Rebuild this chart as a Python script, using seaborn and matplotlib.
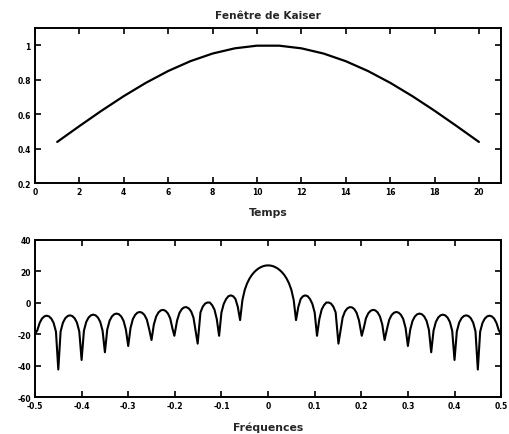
import matplotlib
matplotlib.use("Agg")
import matplotlib.pyplot as plt
import seaborn as sns
import pandas as pd

# ---- Data: Kaiser window (top) ----
temps = [1, 2, 3, 4, 5, 6, 7, 8, 9, 10, 11, 12, 13, 14, 15, 16, 17, 18, 19, 20]
fenetre = [0.4387, 0.5306, 0.6202, 0.7049, 0.7825, 0.8509, 0.9080, 0.9524, 0.9827, 0.9981,
           0.9981, 0.9827, 0.9524, 0.9080, 0.8509, 0.7825, 0.7049, 0.6202, 0.5306, 0.4387]

# ---- Data: spectrum in dB (bottom) ----
freqs = [-0.500, -0.495, -0.490, -0.485, -0.480, -0.475, -0.470, -0.465, -0.460, -0.455,
         -0.450, -0.445, -0.440, -0.435, -0.430, -0.425, -0.420, -0.415, -0.410, -0.405,
         -0.400, -0.395, -0.390, -0.385, -0.380, -0.375, -0.370, -0.365, -0.360, -0.355,
         -0.350, -0.345, -0.340, -0.335, -0.330, -0.325, -0.320, -0.315, -0.310, -0.305,
         -0.300, -0.295, -0.290, -0.285, -0.280, -0.275, -0.270, -0.265, -0.260, -0.255,
         -0.250, -0.245, -0.240, -0.235, -0.230, -0.225, -0.220, -0.215, -0.210, -0.205,
         -0.201, -0.195, -0.190, -0.185, -0.180, -0.175, -0.170, -0.165, -0.160, -0.155,
         -0.151, -0.145, -0.140, -0.135, -0.130, -0.125, -0.120, -0.115, -0.110, -0.105,
         -0.100, -0.095, -0.090, -0.085, -0.080, -0.075, -0.070, -0.065, -0.060, -0.055,
         -0.050, -0.045, -0.040, -0.035, -0.030, -0.025, -0.020, -0.015, -0.010, -0.005,
         0.000,
         0.005, 0.010, 0.015, 0.020, 0.025, 0.030, 0.035, 0.040, 0.045, 0.050,
         0.055, 0.060, 0.065, 0.070, 0.075, 0.080, 0.085, 0.090, 0.095, 0.100,
         0.105, 0.110, 0.115, 0.120, 0.125, 0.130, 0.135, 0.140, 0.145, 0.151,
         0.155, 0.160, 0.165, 0.170, 0.175, 0.180, 0.185, 0.190, 0.195, 0.201,
         0.205, 0.210, 0.215, 0.220, 0.225, 0.230, 0.235, 0.240, 0.245, 0.250,
         0.255, 0.260, 0.265, 0.270, 0.275, 0.280, 0.285, 0.290, 0.295, 0.300,
         0.305, 0.310, 0.315, 0.320, 0.325, 0.330, 0.335, 0.340, 0.345, 0.350,
         0.355, 0.360, 0.365, 0.370, 0.375, 0.380, 0.385, 0.390, 0.395, 0.400,
         0.405, 0.410, 0.415, 0.420, 0.425, 0.430, 0.435, 0.440, 0.445, 0.450,
         0.455, 0.460, 0.465, 0.470, 0.475, 0.480, 0.485, 0.490, 0.495, 0.500]
spectre_db = [-20.0, -17.5, -12.82, -10.04, -8.64, -8.2, -8.64, -10.04, -12.82, -18.4,
              -42.5, -18.19, -12.61, -9.83, -8.43, -7.99, -8.43, -9.83, -12.61, -18.19,
              -36.4, -17.74, -12.16, -9.38, -7.98, -7.54, -7.98, -9.38, -12.16, -17.74,
              -31.5, -17.05, -11.47, -8.69, -7.29, -6.85, -7.29, -8.69, -11.47, -17.05,
              -27.5, -15.95, -10.35, -7.65, -6.25, -5.85, -6.35, -7.85, -10.75, -16.85,
              -23.7, -13.8, -8.7, -6.1, -4.8, -4.5, -5.1, -6.7, -9.85, -16.5,
              -21.0, -11.1, -6.4, -4.0, -2.9, -2.76, -3.6, -5.5, -9.4, -18.5,
              -26.0, -6.1, -2.4, -0.5, 0.19, 0.17, -1.5, -4.3, -10.4, -21.0,
              -6.18, -0.64, 2.39, 4.2, 4.73, 4.2, 2.48, -2.5, -11.0, 1.75,
              8.25, 12.35, 15.33, 17.63, 19.44, 20.85, 21.97, 22.78, 23.38, 23.72,
              23.83,
              23.72, 23.38, 22.78, 21.97, 20.85, 19.44, 17.63, 15.33, 12.35, 8.25,
              1.75, -11.0, -2.5, 2.48, 4.2, 4.73, 4.2, 2.39, -0.64, -6.18,
              -21.0, -10.4, -4.3, -1.5, 0.17, 0.19, -0.5, -2.4, -6.1, -26.0,
              -18.5, -9.4, -5.5, -3.6, -2.76, -2.9, -4.0, -6.4, -11.1, -21.0,
              -16.5, -9.85, -6.7, -5.1, -4.5, -4.8, -6.1, -8.7, -13.8, -23.7,
              -16.85, -10.75, -7.85, -6.35, -5.85, -6.25, -7.65, -10.35, -15.95, -27.5,
              -17.05, -11.47, -8.69, -7.29, -6.85, -7.29, -8.69, -11.47, -17.05, -31.5,
              -17.74, -12.16, -9.38, -7.98, -7.54, -7.98, -9.38, -12.16, -17.74, -36.4,
              -18.19, -12.61, -9.83, -8.43, -7.99, -8.43, -9.83, -12.61, -18.19, -42.5,
              -18.4, -12.82, -10.04, -8.64, -8.2, -8.64, -10.04, -12.82, -17.5, -20.0]

# ---- Tick labels ----
top_xticks = [0, 2, 4, 6, 8, 10, 12, 14, 16, 18, 20]
top_yticks = [0.2, 0.4, 0.6, 0.8, 1.0]
top_ylabels = ["0.2", "0.4", "0.6", "0.8", "1"]
bot_xticks = [-0.5, -0.4, -0.3, -0.2, -0.1, 0.0, 0.1, 0.2, 0.3, 0.4, 0.5]
bot_xlabels = ["-0.5", "-0.4", "-0.3", "-0.2", "-0.1", "0", "0.1", "0.2", "0.3", "0.4", "0.5"]
bot_yticks = [-60, -40, -20, 0, 20, 40]

sns.set_style("ticks")
plt.rcParams["font.family"] = ["DejaVu Sans"]
plt.rcParams["font.weight"] = "bold"

fig = plt.figure(figsize=(5.10, 4.35), dpi=100)
ax1 = fig.add_axes([0.0686, 0.577, 0.914, 0.356])
ax2 = fig.add_axes([0.0686, 0.085, 0.914, 0.361])

df1 = pd.DataFrame({"Temps": temps, "w": fenetre})
sns.lineplot(data=df1, x="Temps", y="w", ax=ax1, color="black", lw=1.6, estimator=None)
df2 = pd.DataFrame({"f": freqs, "db": spectre_db})
sns.lineplot(data=df2, x="f", y="db", ax=ax2, color="black", lw=1.5, estimator=None, sort=False)

ax1.set_xlim(0, 21)
ax1.set_ylim(0.2, 1.1)
ax1.set_xticks(top_xticks)
ax1.set_xticklabels([str(t) for t in top_xticks])
ax1.set_yticks(top_yticks)
ax1.set_yticklabels(top_ylabels)
ax1.set_title("Fenêtre de Kaiser", fontsize=7.6, fontweight="bold", pad=7)
ax1.set_xlabel("Temps", fontsize=7.8, fontweight="bold", labelpad=8)
ax1.set_ylabel("")

ax2.set_xlim(-0.5, 0.5)
ax2.set_ylim(-60, 40)
ax2.set_xticks(bot_xticks)
ax2.set_xticklabels(bot_xlabels)
ax2.set_yticks(bot_yticks)
ax2.set_yticklabels([str(t) for t in bot_yticks])
ax2.set_xlabel("Fréquences", fontsize=7.8, fontweight="bold", labelpad=8)
ax2.set_ylabel("")

for ax in (ax1, ax2):
    for s in ax.spines.values():
        s.set_visible(True)
        s.set_linewidth(1.4)
        s.set_color("black")
    ax.tick_params(direction="in", length=4, width=1.2, top=True, right=True,
                   labelsize=5.5, pad=3, colors="black")
    for lab in ax.get_xticklabels() + ax.get_yticklabels():
        lab.set_fontweight("bold")

fig.savefig("out.png", dpi=100)
